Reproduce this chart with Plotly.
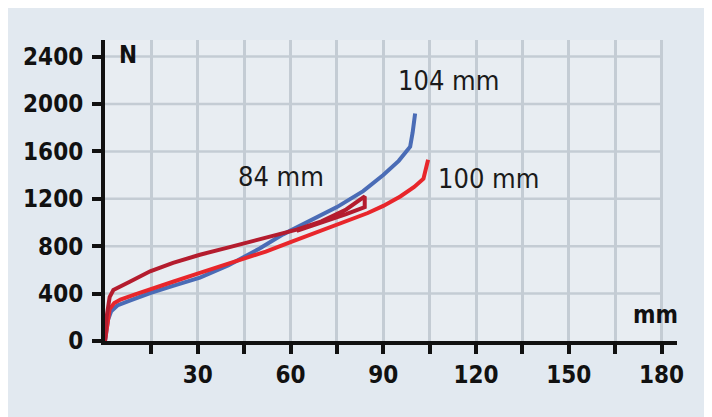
import plotly.graph_objects as go

# force (N) over travel (mm), three settings
x_104 = [0, 0.5, 1, 2, 4, 8, 14.6, 22, 30.7, 40, 50, 57.6, 68.6, 75, 83.5, 90, 95, 98.7, 99.5, 100.3]
f_104 = [0, 80, 180, 250, 300, 340, 405, 465, 535, 640, 780, 900, 1045, 1130, 1265, 1400, 1520, 1640, 1760, 1920]

x_100 = [0, 0.7, 1.5, 3, 5, 10, 14.6, 22, 30.7, 40, 47, 52, 60, 70, 80, 85, 90, 95.5, 100, 103, 104.5]
f_100 = [0, 150, 270, 320, 350, 395, 433, 500, 575, 650, 712, 755, 835, 930, 1025, 1080, 1140, 1220, 1300, 1370, 1530]

x_84 = [0, 0.5, 1.5, 2.7, 8, 14.6, 22, 30.7, 40, 47, 55, 62, 70, 78, 84, 84, 78, 70, 62]
f_84 = [0, 200, 370, 430, 500, 588, 660, 728, 790, 840, 895, 940, 1010, 1110, 1220, 1130, 1070, 1000, 930]

x_ticks = [15, 30, 45, 60, 75, 90, 105, 120, 135, 150, 165, 180]
x_labels = ["", "30", "", "60", "", "90", "", "120", "", "150", "", "180"]
y_ticks = [0, 400, 800, 1200, 1600, 2000, 2400]

labels = [("104 mm", 111, 2200), ("84 mm", 57, 1390), ("100 mm", 124, 1370)]

bg = "#e2e9f0"
grid = "#c4ccd4"
tick_font = dict(family="DejaVu Sans Condensed", size=24, color="#111111", weight="bold")

fig = go.Figure()

fig.add_trace(go.Scatter(x=x_104, y=f_104, mode="lines", line=dict(color="#4a6cb6", width=4), showlegend=False))
fig.add_trace(go.Scatter(x=x_100, y=f_100, mode="lines", line=dict(color="#e8262b", width=4), showlegend=False))
fig.add_trace(go.Scatter(x=x_84, y=f_84, mode="lines", line=dict(color="#b41c2e", width=4), showlegend=False))

# lighter grid area and horizontal grid lines that stop at 180 mm
fig.add_shape(type="rect", xref="x", yref="paper", x0=0, x1=x_ticks[-1], y0=0, y1=1,
              fillcolor="#e8edf2", line_width=0, layer="below")
for yv in y_ticks[1:]:
    fig.add_shape(type="line", xref="x", yref="y", x0=0, x1=x_ticks[-1], y0=yv, y1=yv,
                  line=dict(color=grid, width=2.5), layer="below")

for text, xv, yv in labels:
    fig.add_annotation(x=xv, y=yv, text=text, showarrow=False,
                       font=dict(family="DejaVu Sans Condensed", size=27, color="#1a1a1a"))

fig.add_annotation(xref="paper", yref="paper", x=0.04, y=0.95, text="N", showarrow=False,
                   font=tick_font, xanchor="center", yanchor="middle")
fig.add_annotation(xref="paper", yref="paper", x=0.962, y=0.085, text="mm", showarrow=False,
                   font=tick_font, xanchor="center", yanchor="middle")

# the page body adds an 8px offset, margins compensate for it
fig.update_layout(
    width=712, height=417,
    margin=dict(l=97, r=43, t=32, b=84),
    paper_bgcolor=bg, plot_bgcolor=bg,
    showlegend=False,
)

fig.update_xaxes(
    range=[0, 185], tickvals=x_ticks, ticktext=x_labels,
    showgrid=True, gridcolor=grid, gridwidth=2.5, zeroline=False,
    showline=True, linecolor="#111111", linewidth=4,
    ticks="outside", ticklen=9, tickwidth=4, tickcolor="#111111",
    tickfont=tick_font, ticklabelstandoff=0,
)
fig.update_yaxes(
    range=[0, 2540], tickvals=y_ticks, ticktext=[str(v) for v in y_ticks],
    showgrid=False, zeroline=False,
    showline=True, linecolor="#111111", linewidth=4,
    ticks="outside", ticklen=9, tickwidth=4, tickcolor="#111111",
    tickfont=tick_font, ticklabelstandoff=4,
)

fig.write_html("out.html")
